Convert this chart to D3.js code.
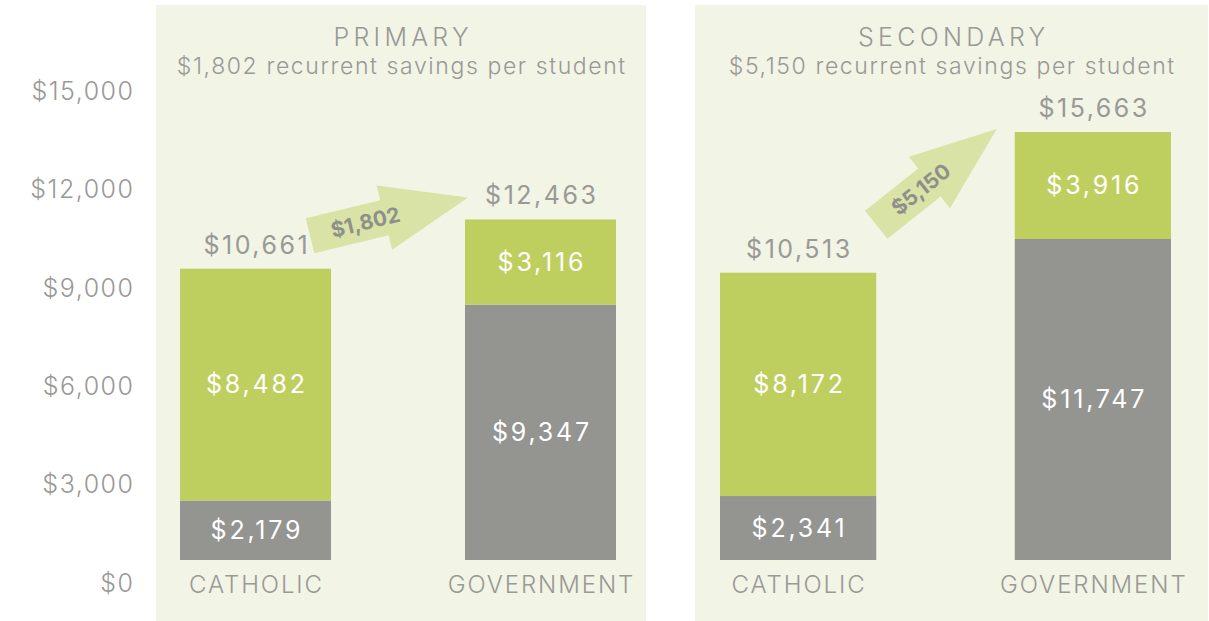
<!DOCTYPE html>
<html>
<head>
<meta charset="utf-8">
<script src="https://cdn.jsdelivr.net/npm/d3@7"></script>
<style>
  body { margin: 0; background: #fff; }
  svg { display: block; font-family: Inter, "Open Sans", sans-serif; }
</style>
</head>
<body>
<div id="chart"></div>
<script>
// Datos
const levels = ['PRIMARY', 'SECONDARY'];
const savings = [1802, 5150];
const sectors = ['CATHOLIC', 'GOVERNMENT'];
const greyValues = [[2179, 9347], [2341, 11747]];
const greenValues = [[8482, 3116], [8172, 3916]];
const totals = [[10661, 12463], [10513, 15663]];
const yTicks = [0, 3000, 6000, 9000, 12000, 15000];

const width = 1209, height = 621;
const cGreen = '#bfcf5f', cGrey = '#949490', cText = '#999995', cPanel = '#f2f4e6', cArrow = '#d9e3a6';

const svg = d3.select('#chart').append('svg')
    .attr('width', width)
    .attr('height', height);

const fmt = d => '$' + d3.format(',')(d);

// texto con letter-spacing centrado (compensa el espacio final)
function spaced(sel, ls, anchor) {
    sel.attr('letter-spacing', ls);
    if (anchor === 'middle') sel.attr('dx', ls / 2);
    if (anchor === 'end') sel.attr('dx', ls);
    return sel;
}

// Eje (solo etiquetas)
const yAxisScale = d3.scaleLinear().domain([0, 15000]).range([583, 91]);
svg.append('g').selectAll('text')
    .data(yTicks)
    .enter().append('text')
    .attr('x', 133)
    .attr('y', d => yAxisScale(d))
    .attr('dy', '0.35em')
    .attr('text-anchor', 'end')
    .attr('fill', cText)
    .attr('font-size', 25)
    .attr('font-weight', 300)
    .text(fmt)
    .call(spaced, 1.5, 'end');

// Escala de las barras
const yBar = d3.scaleLinear().domain([0, 15663]).range([560, 132]);

// Paneles
const panels = [
    {x0: 156, x1: 646, range: [180, 616], arrow: {tail: [-21, -33], tip: [3, -22]}},
    {x0: 695, x1: 1208, range: [720, 1171], arrow: {tail: [0, -48], tip: [-18, -3]}}
];

panels.forEach(function(p, i) {
    const g = svg.append('g');

    g.append('rect')
        .attr('x', p.x0).attr('y', 5)
        .attr('width', p.x1 - p.x0).attr('height', height - 5)
        .attr('fill', cPanel);

    const cx = (p.x0 + p.x1) / 2;
    g.append('text')
        .attr('x', cx).attr('y', 46)
        .attr('text-anchor', 'middle')
        .attr('fill', cText)
        .attr('font-size', 25)
        .attr('font-weight', 300)
        .text(levels[i])
        .call(spaced, 4.3, 'middle');

    g.append('text')
        .attr('x', cx).attr('y', 74)
        .attr('text-anchor', 'middle')
        .attr('fill', cText)
        .attr('font-size', 23)
        .attr('font-weight', 300)
        .text(fmt(savings[i]) + ' recurrent savings per student')
        .call(spaced, 1.6, 'middle');

    const x = d3.scaleBand().domain(sectors).range(p.range).paddingInner(0.47);

    const bars = g.selectAll('.bar')
        .data(sectors.map((s, j) => ({s, grey: greyValues[i][j], green: greenValues[i][j], total: totals[i][j]})))
        .enter().append('g');

    bars.append('rect')
        .attr('x', d => x(d.s)).attr('width', x.bandwidth())
        .attr('y', d => yBar(d.grey))
        .attr('height', d => yBar(0) - yBar(d.grey))
        .attr('fill', cGrey);

    bars.append('rect')
        .attr('x', d => x(d.s)).attr('width', x.bandwidth())
        .attr('y', d => yBar(d.grey + d.green))
        .attr('height', d => yBar(d.grey) - yBar(d.grey + d.green))
        .attr('fill', cGreen);

    bars.append('text')
        .attr('x', d => x(d.s) + x.bandwidth() / 2)
        .attr('y', d => (yBar(0) + yBar(d.grey)) / 2)
        .attr('dy', '0.35em')
        .attr('text-anchor', 'middle')
        .attr('fill', '#fff')
        .attr('font-size', 25)
        .text(d => fmt(d.grey))
        .call(spaced, 2.8, 'middle');

    bars.append('text')
        .attr('x', d => x(d.s) + x.bandwidth() / 2)
        .attr('y', d => (yBar(d.grey) + yBar(d.grey + d.green)) / 2)
        .attr('dy', '0.35em')
        .attr('text-anchor', 'middle')
        .attr('fill', '#fff')
        .attr('font-size', 25)
        .text(d => fmt(d.green))
        .call(spaced, 2.8, 'middle');

    bars.append('text')
        .attr('x', d => x(d.s) + x.bandwidth() / 2)
        .attr('y', d => yBar(d.total) - 15)
        .attr('text-anchor', 'middle')
        .attr('fill', cText)
        .attr('font-size', 25)
        .text(d => fmt(d.total))
        .call(spaced, 2.5, 'middle');

    bars.append('text')
        .attr('x', d => x(d.s) + x.bandwidth() / 2)
        .attr('y', 593)
        .attr('text-anchor', 'middle')
        .attr('fill', cText)
        .attr('font-size', 24)
        .attr('font-weight', 300)
        .text(d => d.s)
        .call(spaced, 1.9, 'middle');

    // Flecha
    const a = p.arrow;
    const t0 = [x(sectors[0]) + x.bandwidth() + a.tail[0], yBar(totals[i][0]) + a.tail[1]];
    const t1 = [x(sectors[1]) + a.tip[0], yBar(totals[i][1]) + a.tip[1]];
    const L = Math.hypot(t1[0] - t0[0], t1[1] - t0[1]);
    const ang = Math.atan2(t1[1] - t0[1], t1[0] - t0[0]) * 180 / Math.PI;
    const h = 18, H = 33, hl = 86;
    const pts = [[0, -h], [L - hl, -h], [L - hl, -H], [L, 0], [L - hl, H], [L - hl, h], [0, h]];

    const ag = g.append('g')
        .attr('transform', 'translate(' + t0[0] + ',' + t0[1] + ') rotate(' + ang + ')');
    ag.append('path')
        .attr('d', d3.line()(pts) + 'Z')
        .attr('fill', cArrow);
    ag.append('text')
        .attr('x', 57).attr('y', 0)
        .attr('dy', '0.35em')
        .attr('text-anchor', 'middle')
        .attr('fill', '#8f8f8b')
        .attr('font-size', 21)
        .attr('font-weight', 700)
        .text(fmt(savings[i]));
});
</script>
</body>
</html>
